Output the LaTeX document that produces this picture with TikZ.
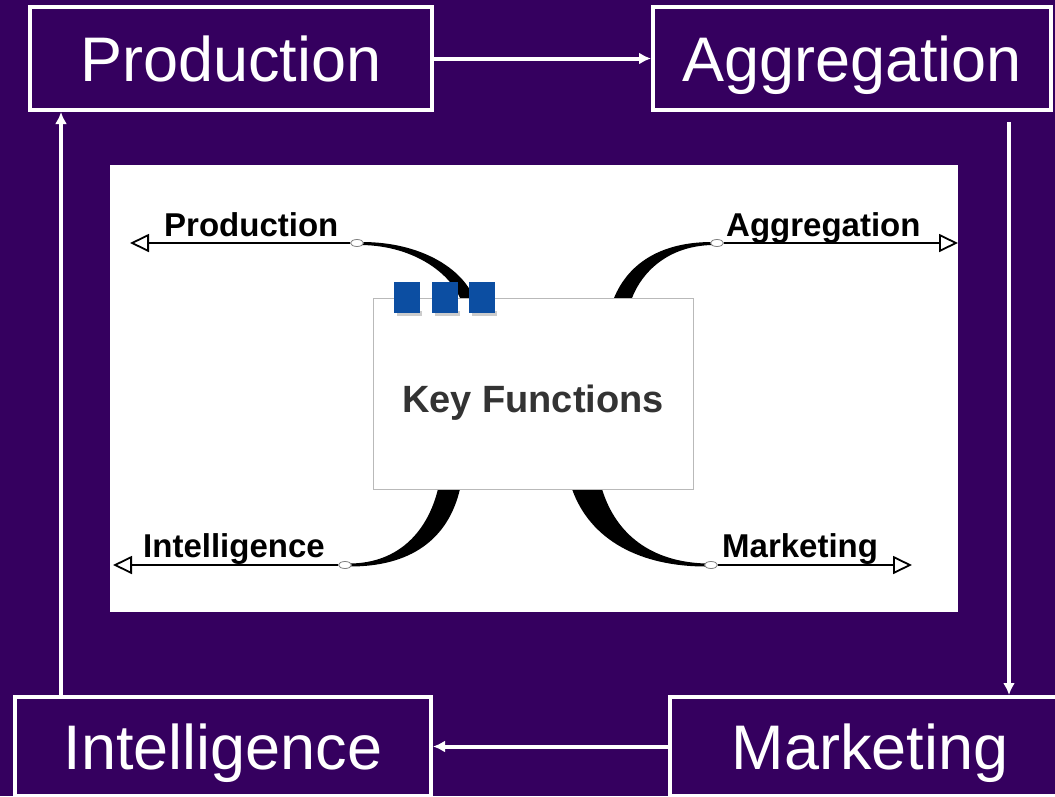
\documentclass[tikz,border=0pt]{standalone}
\usepackage{fontspec}
\setmainfont{Liberation Sans}
\usetikzlibrary{arrows.meta,shapes.geometric}

\definecolor{bgpurple}{RGB}{53,0,95}
\definecolor{tabblue}{RGB}{12,78,162}
\definecolor{keygray}{RGB}{51,51,51}

\tikzset{
  funcbox/.style={draw=white,line width=4pt,text=white,inner sep=0pt,
    font=\fontsize{63}{63}\selectfont,text height=46pt,text depth=0pt},
  flow/.style={draw=white,line width=4pt,-{Latex[length=12pt,width=12pt]}},
  knob/.style={ellipse,draw=gray,fill=white,line width=0.8pt,
    minimum width=13pt,minimum height=7pt,inner sep=0pt},
  twig/.style={line width=1.8pt,-{Triangle[open,length=19pt,width=18pt,line width=1.8pt]}},
  tag/.style={font=\bfseries\fontsize{33}{33}\selectfont,anchor=base west,inner sep=0pt},
  tab/.style={fill=tabblue,minimum width=26pt,minimum height=31pt,inner sep=0pt}
}

\begin{document}
\begin{tikzpicture}[x=1pt,y=-1pt]
%\draw[color=gray!20] (0,0) grid[step=50] (1055,796);
\useasboundingbox (0,0) rectangle (1055,796);
\fill[bgpurple] (0,0) rectangle (1055,796);

% the four stages round the edge
\node[funcbox,minimum width=402pt,minimum height=103pt] (prod)  at (231,58.5)  {Production};
\node[funcbox,minimum width=398pt,minimum height=103pt] (agg)   at (852,58.5)  {Aggregation};
\node[funcbox,minimum width=400pt,minimum height=99pt]  (mkt)   at (870,746.5) {Marketing};
\node[funcbox,minimum width=416pt,minimum height=99pt]  (intel) at (223,746.5) {Intelligence};

\coordinate (adown) at ([shift={(-44,10)}]agg.south east);
\coordinate (iup)   at ([shift={(48,0)}]intel.north west);

\draw[flow] (prod.east) -- (agg.west);
\draw[flow] (adown) -- (adown |- mkt.north);
\draw[flow] (mkt.west) -- (intel.east);
\draw[flow] (iup) -- (iup |- prod.south);

% mind map panel
\fill[white] (110,165) rectangle (958,612);

% tapered branches
\fill[black] (362,242) .. controls (420,242) and (462,268) .. (474,298)
  -- (460,298) .. controls (450,274) and (415,246) .. (362,245) -- cycle;
\fill[black] (712,242) .. controls (660,242) and (628,264) .. (614,298)
  -- (632,298) .. controls (642,272) and (668,246) .. (712,245) -- cycle;
\fill[black] (350,566.5) .. controls (410,566.5) and (448,540) .. (460,489)
  -- (438,489) .. controls (428,530) and (400,563) .. (350,563.5) -- cycle;
\fill[black] (572,489) .. controls (590,540) and (640,566.5) .. (706,566.5)
  -- (706,563.5) .. controls (652,562) and (616,535) .. (602,489) -- cycle;

\node[draw=gray!55,fill=white,line width=1pt,minimum width=320pt,minimum height=191pt] (key) at (533,393.5) {};
\node[font=\bfseries\fontsize{38}{38}\selectfont,text=keygray] (keytxt) at ([yshift=-9pt]key.center) {Key Functions};

\foreach \x in {407,444.5,482}{
  \fill[gray!40] (\x-10,311) rectangle (\x+15,316);
  \node[tab] at (\x,297.5) {};
}

% branch ends
\node[knob] (pk) at (357,243) {};
\node[knob] (ak) at (717,243) {};
\node[knob] (ik) at (345,565) {};
\node[knob] (mk) at (711,565) {};

\coordinate (ptip) at (130,243);
\coordinate (atip) at (958,243);
\coordinate (itip) at (113,565);
\coordinate (mtip) at (912,565);

\draw[twig] (pk.west) -- (ptip);
\draw[twig] (ak.east) -- (atip);
\draw[twig] (ik.west) -- (itip);
\draw[twig] (mk.east) -- (mtip);

\node[tag] (ptag) at (164,236) {Production};
\node[tag] (atag) at (726,236) {Aggregation};
\node[tag] (itag) at (143,557) {Intelligence};
\node[tag] (mtag) at (722,557) {Marketing};
\end{tikzpicture}
\end{document}
